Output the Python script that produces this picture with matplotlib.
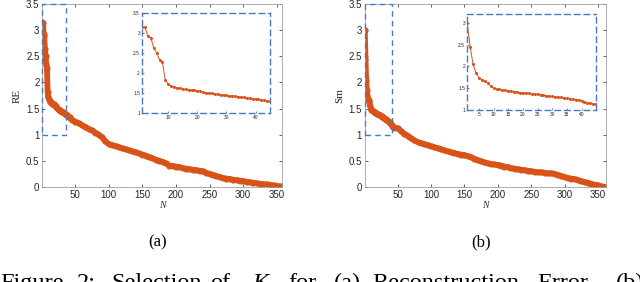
import numpy as np
import matplotlib
matplotlib.use('Agg')
import matplotlib.pyplot as plt
from matplotlib.patches import Rectangle

# ---- data ----
n_head = list(range(1, 46))
re_head = [3.15, 3.14, 2.93, 2.88, 2.63, 2.50, 2.33, 2.27, 1.82, 1.72,
           1.68, 1.65, 1.63, 1.62, 1.60, 1.59, 1.58, 1.58, 1.57, 1.56,
           1.54, 1.52, 1.51, 1.50, 1.49, 1.48, 1.47, 1.46, 1.45, 1.44,
           1.43, 1.43, 1.42, 1.41, 1.40, 1.39, 1.38, 1.37, 1.36, 1.35,
           1.34, 1.33, 1.32, 1.30, 1.29]
sm_head = [3.00, 2.45, 2.05, 1.85, 1.74, 1.69, 1.66, 1.62, 1.55, 1.50,
           1.48, 1.47, 1.46, 1.45, 1.44, 1.43, 1.42, 1.41, 1.40, 1.40,
           1.39, 1.38, 1.37, 1.37, 1.36, 1.35, 1.34, 1.33, 1.32, 1.31,
           1.30, 1.30, 1.29, 1.28, 1.27, 1.26, 1.25, 1.24, 1.23, 1.21,
           1.19, 1.17, 1.15, 1.14, 1.13]

n_tail_re = list(range(50, 360, 5)) + [358]
re_tail = [1.25, 1.22, 1.18, 1.15, 1.11, 1.08, 1.04, 1.00, 0.95, 0.87,
           0.82, 0.80, 0.78, 0.76, 0.74, 0.72, 0.70, 0.68, 0.66, 0.64,
           0.62, 0.60, 0.57, 0.55, 0.52, 0.50, 0.48, 0.45, 0.41, 0.40,
           0.39, 0.38, 0.36, 0.35, 0.34, 0.33, 0.32, 0.31, 0.30, 0.27,
           0.25, 0.23, 0.21, 0.19, 0.17, 0.16, 0.15, 0.14, 0.13, 0.12,
           0.11, 0.10, 0.09, 0.08, 0.07, 0.06, 0.05, 0.05, 0.04, 0.03,
           0.02, 0.01, 0.00]
n_tail_sm = list(range(50, 365, 5))
sm_tail = [1.12, 1.07, 1.02, 0.98, 0.93, 0.89, 0.86, 0.84, 0.82, 0.80,
           0.78, 0.76, 0.74, 0.72, 0.70, 0.68, 0.66, 0.65, 0.63, 0.62,
           0.61, 0.59, 0.57, 0.54, 0.51, 0.49, 0.47, 0.45, 0.44, 0.43,
           0.42, 0.41, 0.39, 0.38, 0.36, 0.35, 0.34, 0.33, 0.32, 0.31,
           0.30, 0.29, 0.28, 0.28, 0.27, 0.26, 0.26, 0.25, 0.23, 0.21,
           0.19, 0.17, 0.16, 0.15, 0.13, 0.11, 0.09, 0.08, 0.06, 0.04,
           0.03, 0.01, 0.00]

main_yticks = [0, 0.5, 1, 1.5, 2, 2.5, 3, 3.5]
main_xticks = [50, 100, 150, 200, 250, 300, 350]

# caption words and their left edge (pixels) - the caption is justified
caption_words = ['Figure', '2:', 'Selection', 'of', 'K', 'for', '(a)',
                 'Reconstruction', 'Error', '(b)']
caption_x = [0, 77, 111, 210, 252, 288, 334, 372, 537, 616]

ORANGE = '#D95319'
BLUE = '#4A78C8'
GRAY = '#262626'

plt.rcParams['font.family'] = ['Liberation Sans', 'DejaVu Sans']

fig = plt.figure(figsize=(6.4, 2.82), dpi=100)


def draw_panel(rect, ns, vals, xmax, ylabel, zoom_w, tag):
    ax = fig.add_axes(rect)
    ax.plot(ns, vals, color=ORANGE, lw=4.2, solid_capstyle='round')
    ax.plot(ns, vals, color=ORANGE, lw=1.2, marker='o', ms=3.4)
    ax.set_xlim(1, xmax)
    ax.set_ylim(0, 3.5)
    ax.set_xticks(main_xticks)
    ax.set_yticks(main_yticks)
    ax.set_yticklabels(['0', '0.5', '1', '1.5', '2', '2.5', '3', '3.5'])
    ax.tick_params(direction='in', labelsize=7, colors=GRAY, length=2.5,
                   width=0.5, top=True, right=True, pad=2)
    for s in ax.spines.values():
        s.set_color('#A0A0A0')
        s.set_linewidth(0.6)
    ax.set_ylabel(ylabel, family='Liberation Serif', fontsize=8, color=GRAY, labelpad=3)
    ax.set_xlabel('N', family='Liberation Serif', style='italic', fontsize=7,
                  color=GRAY, labelpad=1)
    ax.add_patch(Rectangle((1, 1), zoom_w, 2.5, fill=False, ls=(0, (4, 3)),
                           ec=BLUE, lw=1.0, zorder=5, clip_on=False))
    cx = rect[0] + rect[2] * 0.48
    fig.text(cx, 0.14, tag, ha='center', va='center', family='Liberation Serif',
             fontsize=12)
    return ax


def draw_inset(rect, ns, vals, ylim, xticks, yticks, ylabels):
    ax = fig.add_axes(rect)
    ax.plot(ns, vals, color=ORANGE, lw=0.7, marker='o', ms=1.2)
    ax.set_xlim(1, 45)
    ax.set_ylim(*ylim)
    ax.set_xticks(xticks)
    ax.set_yticks(yticks)
    ax.set_yticklabels(ylabels)
    ax.tick_params(direction='in', labelsize=3.5, colors=GRAY, length=1.5,
                   width=0.4, pad=1.5)
    for s in ax.spines.values():
        s.set_color(BLUE)
        s.set_linewidth(1.0)
        s.set_linestyle((0, (4, 3)))
    return ax


draw_panel([0.066, 0.337, 0.375, 0.649], n_head + n_tail_re, re_head + re_tail,
           358, 'RE', 36, '(a)')
draw_inset([0.222, 0.599, 0.200, 0.355], n_head, re_head, (1, 3.5),
           [10, 20, 30, 40], [1, 1.5, 2, 2.5, 3, 3.5],
           ['1', '1.5', '2', '2.5', '3', '3.5'])

draw_panel([0.570, 0.337, 0.377, 0.649], n_head + n_tail_sm, sm_head + sm_tail,
           362, 'Sm', 41, '(b)')
draw_inset([0.730, 0.610, 0.2016, 0.340], n_head, sm_head, (1, 3.2),
           [5, 10, 15, 20, 25, 30, 35, 40], [1, 1.5, 2, 2.5, 3],
           ['1', '1.5', '2', '2.5', '3'])

# caption, cut by the bottom edge as in the page crop
for word, px in zip(caption_words, caption_x):
    fig.text(px / 640, -0.025, word, ha='left', va='baseline',
             family='Liberation Serif', fontsize=17.5,
             style='italic' if word == 'K' else 'normal')

fig.savefig('out.png', dpi=100)
